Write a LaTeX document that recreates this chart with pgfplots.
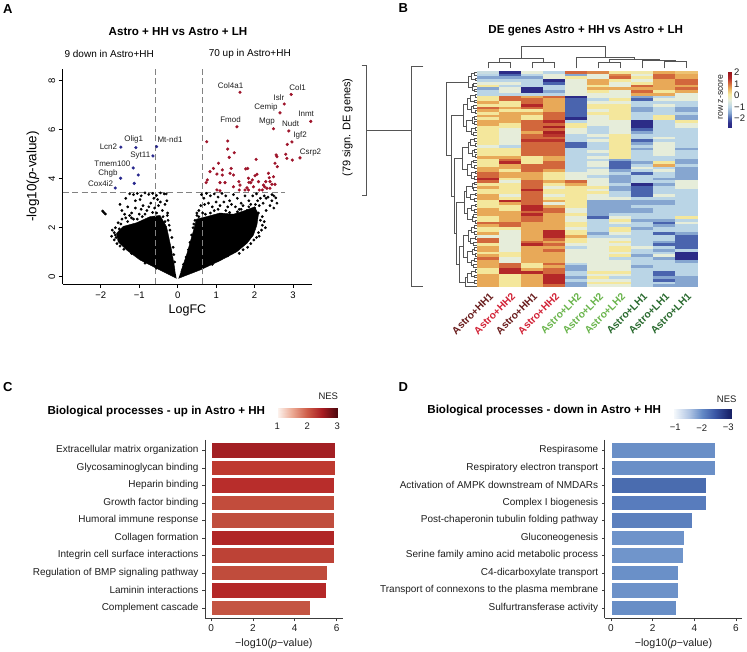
\documentclass[border=0pt]{standalone}
\usepackage{fontspec}
\setmainfont{Liberation Sans}
\usepackage{pgfplots}
\pgfplotsset{compat=1.18}
\usepackage{pgfplotstable}
\newcommand{\fs}[1]{\fontsize{#1}{#1}\selectfont}
\definecolor{redpt}{RGB}{158,20,42}
\definecolor{bluept}{RGB}{38,38,140}
\definecolor{dashg}{RGB}{130,130,130}
\definecolor{axg}{RGB}{60,60,60}
\definecolor{txt}{RGB}{30,30,30}
\definecolor{hh1}{RGB}{105,28,28}
\definecolor{hh2}{RGB}{210,35,55}
\definecolor{lh2}{RGB}{105,180,75}
\definecolor{lh1}{RGB}{40,105,45}
\definecolor{dgm}{RGB}{85,85,85}
\definecolor{cb1}{RGB}{163,32,36}\definecolor{cb2}{RGB}{190,58,48}\definecolor{cb3}{RGB}{184,45,43}
\definecolor{cb4}{RGB}{194,76,60}\definecolor{cb5}{RGB}{192,78,62}\definecolor{cb6}{RGB}{176,38,38}
\definecolor{cb7}{RGB}{189,66,54}\definecolor{cb8}{RGB}{192,76,60}\definecolor{cb9}{RGB}{180,40,40}
\definecolor{cb10}{RGB}{196,84,66}
\definecolor{db1}{RGB}{106,143,199}\definecolor{db2}{RGB}{106,143,199}\definecolor{db3}{RGB}{74,108,175}
\definecolor{db4}{RGB}{88,124,189}\definecolor{db5}{RGB}{92,128,190}\definecolor{db6}{RGB}{110,147,202}
\definecolor{db7}{RGB}{112,149,203}\definecolor{db8}{RGB}{106,144,200}\definecolor{db9}{RGB}{109,146,201}
\definecolor{db10}{RGB}{104,142,198}
\pgfplotsset{
 colormap={zs}{rgb255(0pt)=(40,40,130) rgb255(4pt)=(48,48,140) rgb255(8pt)=(74,100,174) rgb255(13pt)=(134,166,208) rgb255(18pt)=(186,213,230) rgb255(24pt)=(230,237,218) rgb255(29pt)=(244,231,156) rgb255(34pt)=(232,169,88) rgb255(38pt)=(210,103,60) rgb255(43pt)=(180,40,40) rgb255(48pt)=(150,20,28)},
 colormap={nesup}{rgb255(0pt)=(253,246,242) rgb255(5pt)=(236,170,148) rgb255(10pt)=(206,92,72) rgb255(15pt)=(168,28,34) rgb255(20pt)=(78,8,14)},
 colormap={nesdown}{rgb255(0pt)=(22,30,95) rgb255(16pt)=(28,40,112) rgb255(66pt)=(58,86,165) rgb255(116pt)=(100,138,198) rgb255(166pt)=(178,198,228) rgb255(216pt)=(240,245,250) rgb255(224pt)=(248,250,253)},
 /pgf/number format/assume math mode=true,
 barax/.style={scale only axis, anchor=south west, xbar, bar width=15.8pt, y dir=reverse,
   ymin=0.4, ymax=10.6, ytick={1,...,10}, xtick={0,2,4,6},
   axis x line*=bottom, axis y line*=left, axis line style={-, axg, line width=0.7pt},
   tick style={axg, line width=0.6pt}, tick align=outside, major tick length=3pt,
   ticklabel style={font=\fs{10}, text=txt},
   xlabel={−log10(\textit{p}−value)}, xlabel style={font=\fs{10.7}, text=txt},
   every axis plot/.append style={bar shift=0pt, draw=white, line width=0.6pt}},
 cbar/.style={scale only axis, anchor=south west, view={0}{90}, hide axis},
}
\pgfdeclareplotmark{hcell}{\pgfpathrectangle{\pgfqpoint{-11.2pt}{-1.45pt}}{\pgfqpoint{22.4pt}{2.9pt}}\pgfusepathqfill}
\pgfplotstableread{
r c1 c2 c3 c4 c5 c6 c7 c8 c9 c10
0 -0.4 -2.2 0 -0.6 1.4 1.2 0.5 0.4 1.0 0.8
1 -0.6 -1.6 -0.6 0 -1.1 0 1.2 0 1.4 1.0
2 -1.1 -1.1 -1.1 0 0.5 0 1.4 0.5 1.4 1.0
3 -0.6 -0.6 -0.6 -2.2 0 1.0 0.5 0 1.0 1.4
4 0 0 -0.6 -1.6 0 1.0 0 0.5 1.0 1.4
5 0.5 -0.6 -0.6 -0.6 0 0.5 0 1.4 1.0 1.0
6 -1.1 0 -2.2 -0.6 0 1.0 1.0 1.0 1.0 1.4
7 -0.6 0 -2.2 -1.1 0 0.5 0 1.4 0.5 1.0
8 -0.6 -0.6 -0.6 -0.6 0 0 0 1.0 1.0 0
9 0.5 1.4 1.0 1.4 -2.2 0 0 -1.1 -0.6 0
10 0.5 1.4 1.4 1.0 -1.6 -0.6 0.5 -1.6 0 0
11 1.0 0.5 1.4 1.0 -1.6 0 0 -0.6 -0.6 -0.6
12 0.5 0.5 1.9 1.0 -1.6 0.5 0.5 -0.6 0 -0.6
13 1.4 1.0 1.4 1.0 -1.6 0.5 0.5 -1.1 -0.6 -1.1
14 1.0 0.5 0.5 1.0 -1.6 0 0.5 -1.1 -0.6 -1.1
15 0.5 1.0 1.0 1.4 -1.6 0.5 0.5 -0.6 -0.6 -0.6
16 1.0 1.0 0.5 1.4 -1.6 0 0.5 -0.6 0.5 -1.1
17 0.5 1.0 0.5 1.4 -2.2 0 0.5 -0.6 0.5 -1.1
18 1.0 1.0 1.4 1.9 -0.6 0 0 -2.2 -0.6 0.5
19 1.0 0.5 1.4 1.4 0.5 0 0 -2.2 -0.6 0
20 0.5 0.5 1.4 2.1 0.5 -0.6 0 -2.2 -0.6 0
21 0.5 0 1.4 1.4 0 -0.6 0 -1.6 -0.6 -0.6
22 0.5 0 1.0 2.1 0 -0.6 0 -1.1 -0.6 -0.6
23 0.5 0 1.4 1.8 -0.6 0 0.5 -0.6 -0.6 -0.6
24 0.5 0 1.4 1.4 -0.6 -0.6 0.5 -0.6 0 -0.6
25 0.5 0 1.8 1.8 -0.6 0 0.5 -1.6 -0.6 -0.6
26 0.5 0 1.4 1.4 -1.6 -0.6 0.5 -1.1 0 -0.6
27 0 -0.6 1.4 1.4 -1.6 -0.6 0.5 -0.6 0 -0.6
28 0.5 0.5 1.4 1.4 -0.6 -0.6 0.5 -1.1 0 -1.1
29 0.5 0.5 1.4 1.4 -0.6 0 0.5 -0.6 0 -0.6
30 0.5 0.5 1.4 1.4 -0.6 -0.6 0.5 -0.6 0 -0.6
31 1.0 1.0 0.5 1.0 -0.6 0 0.5 -0.6 -0.6 -0.6
32 0.5 1.4 0.5 1.0 -0.6 -0.6 -1.1 -0.6 -0.6 -1.1
33 0.5 1.9 0.5 1.4 -0.6 0 -1.6 -1.1 0.5 -1.1
34 0.5 1.0 1.4 1.4 -0.6 0 -1.6 -0.6 1.0 -0.6
35 1.0 1.0 1.4 1.4 -0.6 -0.6 -1.6 0 -0.6 -1.1
36 1.0 0.5 1.4 1.0 -0.6 0 -1.1 -0.6 0 -1.1
37 1.4 1.0 1.0 0.5 0 0 -0.6 -1.6 -0.6 -1.1
38 1.4 1.0 1.0 0.5 0 -0.6 -1.1 -0.6 -0.6 -1.1
39 1.9 0.5 1.0 0.5 0 0 -1.1 -0.6 -1.1 -1.1
40 1.4 0 1.4 1.0 1.4 0 -1.1 -0.6 -0.6 0
41 0.5 0.5 1.4 0.5 1.0 0 -0.6 -2.2 -1.1 0
42 1.0 0.5 1.4 0 0.5 0.5 -1.1 -1.6 -0.6 0
43 0.5 0.5 1.9 0.5 0.5 0 -1.1 -1.6 -0.6 -0.6
44 0.5 0.5 1.4 0.5 0.5 0.5 -0.6 -1.6 -0.6 -0.6
45 1.0 0 1.4 0 0.5 0 -0.6 -1.6 0 -0.6
46 1.0 0.5 1.4 0.5 0.5 0 0 -0.6 -0.6 -0.6
47 0.5 1.9 1.4 1.0 0.5 -1.1 -1.1 -1.1 -1.1 -0.6
48 0.5 1.0 1.4 0 0.5 -1.1 -1.1 -1.1 -1.1 -0.6
49 0.5 0.5 1.9 1.0 0.5 -1.1 -1.1 -0.6 -0.6 -0.6
50 1.0 0.5 1.9 1.4 0 -1.1 -1.1 -1.1 -0.6 -0.6
51 1.0 1.0 1.4 1.4 0 -1.1 -1.1 -1.1 -0.6 -0.6
52 1.0 1.0 1.9 1.0 0.5 -1.1 -0.6 -0.6 -0.6 -0.6
53 0.5 1.0 1.4 1.0 0 -1.6 0 -0.6 -0.6 0.5
54 0.5 1.0 1.4 1.0 0 -0.6 0.5 -1.1 -1.1 -0.6
55 1.4 1.4 1.0 1.0 0.5 -0.6 0 -0.6 -1.6 0
56 1.0 1.4 1.0 1.0 0.5 -0.6 -0.6 -0.6 -1.1 -0.6
57 0.5 0.5 1.0 1.0 0 -0.6 0.5 -1.1 -0.6 -0.6
58 0.5 0 1.0 1.9 0.5 -0.6 0.5 -0.6 -0.6 -0.6
59 1.0 0 1.0 1.9 0.5 -1.1 0 -0.6 -1.6 -1.1
60 0 0 1.0 1.9 1.0 -0.6 -0.6 -0.6 -0.6 -1.6
61 1.4 0 1.0 1.4 0.5 0 0 -0.6 -0.6 -1.6
62 1.4 0 1.4 1.0 0.5 0 0.5 -0.6 -1.1 -1.6
63 0.5 0 1.9 1.4 0 0 0 -0.6 -1.6 -1.6
64 1.0 0 1.0 1.0 -0.6 0 0.5 0 -0.6 -1.6
65 1.0 0 1.0 1.4 0 0 0.5 -0.6 -1.1 -0.6
66 0.5 0.5 1.0 1.0 0 0 0 -0.6 -0.6 -2.2
67 1.0 0.5 1.0 1.0 0 0 0.5 -1.1 0 -2.2
68 1.4 0 1.0 1.0 0 0 -0.6 -0.6 -1.1 -2.2
69 1.0 0 1.0 1.0 0 0 0 -0.6 -0.6 -1.1
70 1.0 1.4 0.5 1.4 -0.6 0 0 -0.6 -0.6 -0.6
71 1.0 1.4 0.5 1.0 -1.1 0 0 -1.1 -0.6 -0.6
72 0.5 1.9 1.0 1.4 -1.1 0 0 -0.6 -0.6 -0.6
73 0.5 1.9 1.9 1.4 -0.6 0.5 0.5 -0.6 -1.6 -0.6
74 1.0 0.5 1.0 1.9 -0.6 0 0 -0.6 -1.6 -0.6
75 1.0 0.5 1.0 1.9 -1.1 0.5 -0.6 -0.6 -1.1 -1.1
76 1.0 0.5 1.0 1.9 -0.6 0 0 -0.6 -1.6 -1.1
77 1.0 0.5 1.0 1.9 -1.1 0.5 0.5 -0.6 -0.6 -1.1
78 1.0 0.5 1.0 1.4 -1.1 0 0 -0.6 -1.1 -1.1
}\heat
\begin{document}
\begin{tikzpicture}
\path[use as bounding box] (0,0) rectangle (747pt,-652pt);
% ---------------- Panel A ----------------
\begin{axis}[at={(62.7pt,-284pt)}, anchor=south west, scale only axis,
  width=249.6pt, height=215pt, xmin=-2.99, xmax=3.5, ymin=-0.3, ymax=8.48,
  axis x line*=bottom, axis y line*=left, axis line style={-, black, line width=0.6pt},
  tick style={black, line width=0.6pt}, tick align=outside, major tick length=4pt,
  xtick={-2,-1,0,1,2,3}, xticklabels={−2,−1,0,1,2,3},
  ytick={0,2,4,6,8}, yticklabels={0,2,4,6,8},
  yticklabel style={rotate=90, anchor=south},
  ticklabel style={font=\fs{9.5}, text=black},
  xlabel={LogFC}, xlabel style={font=\fs{12.5}},
  ylabel={-log10(\textit{p}-value)},
  every axis y label/.style={at={(axis description cs:-0.119,0.5)}, rotate=90, anchor=center, font=\fs{13.5}},
  clip=false]
\addplot[fill=black, draw=black, line width=0.4pt] coordinates {(-0.03,-0.07)(-0.46,0.27)(-0.98,0.68)(-1.33,1.09)(-1.55,1.43)(-1.59,1.77)(-1.42,2.05)(-1.07,2.2)(-0.72,2.45)(-0.46,2.5)(-0.29,2.04)(-0.16,1.09)(-0.07,0.27)};
\addplot[fill=black, draw=black, line width=0.4pt] coordinates {(0.02,-0.07)(0.58,0.27)(1.10,0.65)(1.54,1.02)(1.80,1.36)(1.97,1.70)(2.06,2.11)(2.10,2.55)(2.0,2.85)(1.75,2.7)(1.45,2.55)(1.10,2.6)(0.75,2.45)(0.49,2.35)(0.39,1.77)(0.23,0.89)(0.08,0.2)};
\addplot[only marks, mark=*, mark size=1.2pt, black] coordinates {
(-1.25,3.38)(-1.15,3.35)(-1.05,3.40)(-0.95,3.30)(-0.85,3.42)(-0.75,3.36)(-0.65,3.40)(-0.55,3.32)(-0.35,3.38)(-0.28,3.10)(-0.45,3.05)(-1.10,3.10)(-1.35,3.20)(-1.50,2.95)(-1.45,2.70)(-1.30,2.85)(-1.20,2.60)(-0.90,2.90)(-0.70,3.00)(-0.60,2.80)(-0.50,2.90)(-0.40,2.70)(-0.98,3.15)(-0.80,2.70)(-1.00,2.55)(-0.62,3.20)(-0.33,2.95)(-0.26,2.60)(-0.30,3.38)(-0.45,3.42)(-1.95,2.68)(-1.92,2.62)(-1.88,2.56)(-1.62,2.00)(-1.65,1.80)(-1.60,1.60)(-1.70,1.90)(-1.55,2.20)(-1.45,2.35)(-1.35,2.40)(-1.65,1.50)(-1.58,1.35)(-1.50,1.25)(-1.40,1.12)(-1.25,2.50)(-1.15,2.35)(-0.25,2.30)(-0.20,1.90)(-0.15,1.60)(-0.12,1.20)(-0.10,0.90)(-0.08,0.60)(-0.22,2.10)(-0.27,2.50)(-1.20,0.95)(-0.85,0.55)(-0.55,0.35)
(-1.30,2.25)(-1.20,2.40)(-1.05,2.35)(-0.92,2.45)(-0.85,2.55)(-0.65,2.62)(-0.55,2.60)(-0.38,2.45)(-0.33,2.25)(-1.48,2.15)(-1.62,1.70)(-1.72,1.65)(-1.52,1.95)(-0.95,2.75)(-0.75,2.85)(-1.10,2.80)(-1.38,2.55)(-0.52,3.15)
(0.62,3.35)(0.68,3.20)(0.75,3.40)(0.85,3.30)(0.95,3.38)(1.05,3.25)(1.15,3.40)(1.25,3.30)(1.35,3.10)(1.45,3.35)(1.55,3.20)(1.65,3.00)(1.75,3.30)(1.85,3.10)(1.95,3.30)(2.05,3.38)(2.15,3.20)(2.25,3.30)(2.35,3.25)(2.45,3.10)(2.55,3.22)(2.22,3.00)(2.40,2.90)(2.30,2.70)(2.50,2.80)(2.58,3.00)(0.60,2.90)(0.55,2.70)(0.70,2.95)(0.80,3.00)(0.90,2.85)(1.00,3.05)(1.10,2.90)(1.20,3.05)(1.30,2.85)(1.40,2.95)(1.60,2.75)(1.70,2.90)(1.90,2.95)(2.00,2.80)(2.10,2.60)(2.20,2.45)(0.50,2.50)(0.65,2.60)(1.50,2.85)(1.80,2.70)(2.08,3.10)(2.12,2.90)(2.30,3.20)(2.45,3.35)(2.50,3.30)(2.15,2.30)(2.20,2.10)(2.18,1.90)(2.10,1.80)(2.05,1.60)(1.98,1.50)(1.90,1.35)(1.82,1.20)(1.70,1.10)(0.40,2.00)(0.36,1.70)(0.32,1.40)(0.28,1.10)(0.22,0.80)(0.15,0.50)(0.45,2.30)(0.42,2.15)(1.30,0.85)(0.90,0.50)(1.60,0.95)
(0.55,2.45)(0.85,2.60)(0.95,2.70)(1.25,2.70)(1.35,2.62)(1.55,2.65)(1.65,2.75)(1.85,2.85)(0.72,2.55)(1.05,2.75)(2.25,2.25)(2.28,2.00)(2.12,1.65)(2.02,2.95)(0.48,2.10)(0.50,2.60)};
\addplot[only marks, mark=*, mark size=1.4pt, redpt] coordinates {
(1.62,7.53)(2.95,7.44)(2.77,7.05)(2.66,6.69)(3.46,6.34)(1.54,6.12)(2.49,6.04)(2.89,5.95)(2.97,5.5)(3.18,4.85)
(2.85,5.4)(0.755,5.51)(1.30,5.54)(1.30,5.21)(1.34,4.87)(1.47,5.06)(1.06,4.63)(0.93,4.42)(0.84,4.29)(0.77,3.95)(0.74,3.84)(1.02,4.19)(1.16,4.36)(1.39,4.42)(1.16,4.15)(1.36,4.22)(1.45,4.15)(1.10,3.84)(1.23,3.84)(1.45,3.67)(1.02,3.54)(1.10,3.51)(1.59,3.88)(1.62,3.74)(1.77,4.40)(1.82,4.42)(1.84,4.02)(1.85,3.85)(1.90,3.84)(2.04,4.79)(2.01,4.12)(2.06,4.18)(1.94,3.95)(1.97,3.67)(1.80,3.63)(2.10,3.88)(1.75,3.54)(1.84,3.54)(1.60,3.54)(2.12,3.54)(2.23,3.74)(2.26,3.67)(2.32,3.61)(2.40,3.61)(2.20,3.54)(2.36,4.22)(2.49,4.08)(2.38,4.04)(2.53,3.77)(2.45,3.77)(2.56,4.97)(2.58,4.90)(2.53,4.63)(2.59,4.49)(2.81,5.0)(2.84,4.83)(2.98,4.76)(2.29,3.88)(2.40,3.88)};
\addplot[only marks, mark=*, mark size=1.4pt, bluept] coordinates {(-1.476,5.29)(-1.087,5.27)(-0.547,5.31)(-0.643,4.93)(-1.156,4.44)(-1.026,4.15)(-1.484,4.02)(-1.13,3.81)(-1.625,3.62)};
\addplot[dashg, line width=0.8pt, dash pattern=on 6pt off 3.5pt] coordinates {(-0.575,-0.3)(-0.575,8.48)};
\addplot[dashg, line width=0.8pt, dash pattern=on 6pt off 3.5pt] coordinates {(0.635,-0.3)(0.635,8.48)};
\addplot[dashg, line width=0.8pt, dash pattern=on 6pt off 3.5pt] coordinates {(-2.99,3.44)(2.8,3.44)};
\begin{scope}[every node/.style={font=\fs{8}, text=txt, inner sep=0pt}]
\node at (axis cs:-1.80,5.31) {Lcn2};
\node at (axis cs:-1.146,5.61) {Olig1};
\node at (axis cs:-0.2,5.61) {Mt-nd1};
\node at (axis cs:-0.973,4.93) {Syt11};
\node at (axis cs:-1.698,4.6) {Tmem100};
\node at (axis cs:-1.815,4.2) {Chgb};
\node at (axis cs:-2.003,3.8) {Cox4i2};
\node at (axis cs:1.375,7.81) {Col4a1};
\node at (axis cs:3.12,7.73) {Col1};
\node at (axis cs:2.633,7.32) {Islr};
\node at (axis cs:2.295,6.9) {Cemip};
\node at (axis cs:3.34,6.64) {Inmt};
\node at (axis cs:1.375,6.4) {Fmod};
\node at (axis cs:2.32,6.34) {Mgp};
\node at (axis cs:2.937,6.26) {Nudt};
\node at (axis cs:3.185,5.76) {Igf2};
\node at (axis cs:3.453,5.08) {Csrp2};
\end{scope}
\end{axis}
\node[font=\bfseries\fs{11.6}] at (178pt,-31.7pt) {Astro + HH vs Astro + LH};
\node[font=\fs{10}] at (109.2pt,-54.3pt) {9 down in Astro+HH};
\node[font=\fs{10}] at (249.8pt,-54.3pt) {70 up in Astro+HH};
\node[font=\bfseries\fs{13}] at (7.7pt,-9.2pt) {A};
\node[font=\bfseries\fs{13}] at (403.3pt,-8.3pt) {B};
\node[font=\bfseries\fs{13}] at (7.7pt,-386.7pt) {C};
\node[font=\bfseries\fs{13}] at (403.3pt,-386.7pt) {D};
% ---------------- Panel B ----------------
\node[font=\fs{11}, rotate=90] at (347.5pt,-127.5pt) {(79 sign. DE genes)};
\draw[dgm, line width=0.8pt] (361.7pt,-65.7pt) -- (366.7pt,-65.7pt) -- (366.7pt,-195pt) -- (361.7pt,-195pt);
\draw[dgm, line width=0.8pt] (366.7pt,-130pt) -- (411.7pt,-130pt);
\draw[dgm, line width=0.8pt] (423.3pt,-66.7pt) -- (411.7pt,-66.7pt) -- (411.7pt,-286.7pt) -- (423.3pt,-286.7pt);
\node[font=\bfseries\fs{11.6}] at (585.8pt,-30.7pt) {DE genes Astro + HH vs Astro + LH};
\begin{axis}[at={(477.3pt,-287.3pt)}, anchor=south west, scale only axis, width=220pt, height=216.3pt,
  xmin=0.5, xmax=10.5, ymin=-0.5, ymax=78.5, y dir=reverse, hide axis,
  colormap name=zs, point meta min=-2.4, point meta max=2.4]
\pgfplotsinvokeforeach{1,...,10}{
\addplot[scatter, only marks, mark=hcell, point meta=\thisrow{c#1}] table[x expr=#1, y=r]{\heat};
}
\end{axis}
% column dendrogram
\begin{axis}[at={(477.3pt,-68.5pt)}, anchor=south west, scale only axis, width=220pt, height=21.8pt,
  xmin=0.5, xmax=10.5, ymin=0, ymax=21.8, hide axis, clip=false]
\addplot[dgm, line width=0.6pt, unbounded coords=jump] coordinates {
(1,0)(1,5.8)(2,5.8)(2,0)(nan,nan)
(3,0)(3,6.5)(4,6.5)(4,0)(nan,nan)
(1.5,5.8)(1.5,10.2)(3.5,10.2)(3.5,6.5)(nan,nan)
(6,0)(6,6.5)(7,6.5)(7,0)(nan,nan)
(9,0)(9,6.8)(10,6.8)(10,0)(nan,nan)
(8,0)(8,8.5)(9.5,8.5)(9.5,6.8)(nan,nan)
(6.5,6.5)(6.5,9.5)(8.75,9.5)(8.75,8.5)(nan,nan)
(5,0)(5,11.2)(7.625,11.2)(7.625,9.5)(nan,nan)
(2.5,10.2)(2.5,21.8)(6.3125,21.8)(6.3125,11.2)};
\end{axis}
% row dendrogram
\begin{axis}[at={(446pt,-287.3pt)}, anchor=south west, scale only axis, width=31pt, height=216.3pt,
  xmin=0, xmax=31, x dir=reverse, ymin=-0.5, ymax=78.5, y dir=reverse, hide axis, clip=false]
\addplot[dgm, line width=0.5pt, unbounded coords=jump] coordinates {
(0,0)(3,0)(3,1)(0,1)(nan,nan)(0,2)(2,2)(2,3)(0,3)(nan,nan)(0,4)(4,4)(4,5)(0,5)(nan,nan)(0,6)(3,6)(3,7)(0,7)(nan,nan)
(0,8)(2,8)(2,9)(0,9)(nan,nan)(0,10)(3,10)(3,11)(0,11)(nan,nan)(0,12)(4,12)(4,13)(0,13)(nan,nan)(0,14)(2,14)(2,15)(0,15)(nan,nan)
(0,16)(3,16)(3,17)(0,17)(nan,nan)(0,18)(3,18)(3,19)(0,19)(nan,nan)(0,20)(2,20)(2,21)(0,21)(nan,nan)(0,22)(4,22)(4,23)(0,23)(nan,nan)
(0,24)(3,24)(3,25)(0,25)(nan,nan)(0,26)(2,26)(2,27)(0,27)(nan,nan)(0,28)(3,28)(3,29)(0,29)(nan,nan)(0,30)(2,30)(2,31)(0,31)(nan,nan)
(0,32)(4,32)(4,33)(0,33)(nan,nan)(0,34)(3,34)(3,35)(0,35)(nan,nan)(0,36)(2,36)(2,37)(0,37)(nan,nan)(0,38)(3,38)(3,39)(0,39)(nan,nan)
(0,40)(3,40)(3,41)(0,41)(nan,nan)(0,42)(4,42)(4,43)(0,43)(nan,nan)(0,44)(2,44)(2,45)(0,45)(nan,nan)(0,46)(3,46)(3,47)(0,47)(nan,nan)
(0,48)(2,48)(2,49)(0,49)(nan,nan)(0,50)(3,50)(3,51)(0,51)(nan,nan)(0,52)(4,52)(4,53)(0,53)(nan,nan)(0,54)(2,54)(2,55)(0,55)(nan,nan)
(0,56)(3,56)(3,57)(0,57)(nan,nan)(0,58)(3,58)(3,59)(0,59)(nan,nan)(0,60)(2,60)(2,61)(0,61)(nan,nan)(0,62)(4,62)(4,63)(0,63)(nan,nan)
(0,64)(3,64)(3,65)(0,65)(nan,nan)(0,66)(2,66)(2,67)(0,67)(nan,nan)(0,68)(3,68)(3,69)(0,69)(nan,nan)(0,70)(4,70)(4,71)(0,71)(nan,nan)
(0,72)(2,72)(2,73)(0,73)(nan,nan)(0,74)(3,74)(3,75)(0,75)(nan,nan)(0,76)(3,76)(3,77)(0,77)(nan,nan)
(3,0.5)(6,0.5)(6,2.5)(2,2.5)(nan,nan)(4,4.5)(5,4.5)(5,6.5)(3,6.5)(nan,nan)(2,8.5)(7,8.5)(7,10.5)(3,10.5)(nan,nan)
(4,12.5)(6,12.5)(6,14.5)(2,14.5)(nan,nan)(3,16.5)(5,16.5)(5,18.5)(3,18.5)(nan,nan)(2,20.5)(6,20.5)(6,22.5)(4,22.5)(nan,nan)
(3,24.5)(7,24.5)(7,26.5)(2,26.5)(nan,nan)(3,28.5)(5,28.5)(5,30.5)(2,30.5)(nan,nan)(4,32.5)(6,32.5)(6,34.5)(3,34.5)(nan,nan)
(2,36.5)(6,36.5)(6,38.5)(3,38.5)(nan,nan)(3,40.5)(5,40.5)(5,42.5)(4,42.5)(nan,nan)(2,44.5)(7,44.5)(7,46.5)(3,46.5)(nan,nan)
(2,48.5)(6,48.5)(6,50.5)(3,50.5)(nan,nan)(4,52.5)(5,52.5)(5,54.5)(2,54.5)(nan,nan)(3,56.5)(6,56.5)(6,58.5)(3,58.5)(nan,nan)
(2,60.5)(7,60.5)(7,62.5)(4,62.5)(nan,nan)(3,64.5)(5,64.5)(5,66.5)(2,66.5)(nan,nan)(3,68.5)(6,68.5)(6,70.5)(4,70.5)(nan,nan)
(2,72.5)(6,72.5)(6,74.5)(3,74.5)(nan,nan)
(6,1.5)(9,1.5)(9,5.5)(5,5.5)(nan,nan)(7,9.5)(10,9.5)(10,13.5)(6,13.5)(nan,nan)(5,17.5)(11,17.5)(11,21.5)(6,21.5)(nan,nan)
(7,25.5)(9,25.5)(9,29.5)(5,29.5)(nan,nan)(6,33.5)(10,33.5)(10,37.5)(6,37.5)(nan,nan)(5,41.5)(11,41.5)(11,45.5)(7,45.5)(nan,nan)
(6,49.5)(10,49.5)(10,53.5)(5,53.5)(nan,nan)(6,57.5)(9,57.5)(9,61.5)(7,61.5)(nan,nan)(5,65.5)(10,65.5)(10,69.5)(6,69.5)(nan,nan)
(10,11.5)(14,11.5)(14,19.5)(11,19.5)(nan,nan)(9,27.5)(15,27.5)(15,35.5)(10,35.5)(nan,nan)
(11,43.5)(13,43.5)(13,51.5)(10,51.5)(nan,nan)(9,59.5)(14,59.5)(14,67.5)(10,67.5)(nan,nan)
(6,73.5)(10,73.5)(10,76.5)(3,76.5)(nan,nan)(10,75)(12,75)(12,78)(0,78)(nan,nan)
(14,63.5)(18,63.5)(18,76.5)(12,76.5)(nan,nan)(13,47.5)(21,47.5)(21,70)(18,70)(nan,nan)
(15,31.5)(23,31.5)(23,58.75)(21,58.75)(nan,nan)(14,15.5)(26,15.5)(26,45.125)(23,45.125)(nan,nan)
(9,3.5)(31,3.5)(31,30.31)(26,30.31)};
\end{axis}
% heatmap colour key
\begin{axis}[cbar, at={(727.3pt,-127.7pt)}, width=4.4pt, height=56pt, xmin=0, xmax=1, ymin=-2.8, ymax=2.05,
  colormap name=zs, point meta min=-2.8, point meta max=2.05]
\addplot3[surf, shader=interp, mesh/cols=2, point meta=y] coordinates {
(0,-2.8,0)(1,-2.8,0)(0,-2.396,0)(1,-2.396,0)(0,-1.992,0)(1,-1.992,0)(0,-1.486,0)(1,-1.486,0)
(0,-0.981,0)(1,-0.981,0)(0,-0.375,0)(1,-0.375,0)(0,0.130,0)(1,0.130,0)(0,0.635,0)(1,0.635,0)
(0,1.039,0)(1,1.039,0)(0,1.545,0)(1,1.545,0)(0,2.05,0)(1,2.05,0)};
\end{axis}
\begin{scope}[every node/.style={font=\fs{9.5}, text=txt, anchor=west, inner sep=0pt}]
\node at (734pt,-72.6pt) {2};
\node at (734pt,-84pt) {1};
\node at (734pt,-95.5pt) {0};
\node at (734pt,-107pt) {−1};
\node at (734pt,-118.5pt) {−2};
\end{scope}
\node[font=\fs{8.7}, text=txt, rotate=90] at (720.5pt,-97pt) {row z-score};
\begin{scope}[every node/.style={font=\bfseries\fs{10.3}, rotate=45, anchor=east, inner sep=1pt}]
\node[text=hh1] at (492.3pt,-294pt) {Astro+HH1};
\node[text=hh2] at (514.3pt,-294pt) {Astro+HH2};
\node[text=hh1] at (536.3pt,-294pt) {Astro+HH1};
\node[text=hh2] at (558.3pt,-294pt) {Astro+HH2};
\node[text=lh2] at (580.3pt,-294pt) {Astro+LH2};
\node[text=lh2] at (602.3pt,-294pt) {Astro+LH2};
\node[text=lh2] at (624.3pt,-294pt) {Astro+LH2};
\node[text=lh1] at (646.3pt,-294pt) {Astro+LH1};
\node[text=lh1] at (668.3pt,-294pt) {Astro+LH1};
\node[text=lh1] at (690.3pt,-294pt) {Astro+LH1};
\end{scope}
% ---------------- Panel C ----------------
\node[font=\bfseries\fs{11.6}] at (156.3pt,-411.7pt) {Biological processes - up in Astro + HH};
\begin{axis}[barax, at={(205pt,-618.3pt)}, width=137.7pt, height=178.5pt, xmin=-0.29, xmax=6.29,
  yticklabels={Extracellular matrix organization, Glycosaminoglycan binding, Heparin binding, Growth factor binding, Humoral immune response, Collagen formation, Integrin cell surface interactions, Regulation of BMP signaling pathway, Laminin interactions, Complement cascade}]
\addplot[fill=cb1] coordinates {(5.95,1)};
\addplot[fill=cb2] coordinates {(5.92,2)};
\addplot[fill=cb3] coordinates {(5.90,3)};
\addplot[fill=cb4] coordinates {(5.88,4)};
\addplot[fill=cb5] coordinates {(5.88,5)};
\addplot[fill=cb6] coordinates {(5.87,6)};
\addplot[fill=cb7] coordinates {(5.87,7)};
\addplot[fill=cb8] coordinates {(5.57,8)};
\addplot[fill=cb9] coordinates {(5.52,9)};
\addplot[fill=cb10] coordinates {(4.76,10)};
\end{axis}
\begin{axis}[cbar, at={(277.3pt,-417.3pt)}, width=60pt, height=9.6pt, xmin=1, xmax=3, ymin=0, ymax=1,
  colormap name=nesup, point meta min=1, point meta max=3]
\addplot3[surf, shader=interp, mesh/cols=2, point meta=x] coordinates {
(1,0,0)(1,1,0)(1.5,0,0)(1.5,1,0)(2,0,0)(2,1,0)(2.5,0,0)(2.5,1,0)(3,0,0)(3,1,0)};
\end{axis}
\begin{scope}[every node/.style={font=\fs{9.5}, text=txt}]
\node at (277.3pt,-426pt) {1};
\node at (307.3pt,-426pt) {2};
\node at (337.3pt,-426pt) {3};
\node at (328.3pt,-396.7pt) {NES};
\end{scope}
% ---------------- Panel D ----------------
\node[font=\bfseries\fs{11.6}] at (544.2pt,-410.7pt) {Biological processes - down in Astro + HH};
\begin{axis}[barax, at={(604.75pt,-618.3pt)}, width=137.5pt, height=178.5pt, xmin=-0.3, xmax=6.3,
  yticklabels={Respirasome, Respiratory electron transport, Activation of AMPK downstream of NMDARs, Complex I biogenesis, Post-chaperonin tubulin folding pathway, Gluconeogenesis, Serine family amino acid metabolic process, C4-dicarboxylate transport, Transport of connexons to the plasma membrane, Sulfurtransferase activity}]
\addplot[fill=db1] coordinates {(5.03,1)};
\addplot[fill=db2] coordinates {(5.00,2)};
\addplot[fill=db3] coordinates {(4.59,3)};
\addplot[fill=db4] coordinates {(4.59,4)};
\addplot[fill=db5] coordinates {(3.92,5)};
\addplot[fill=db6] coordinates {(3.50,6)};
\addplot[fill=db7] coordinates {(3.47,7)};
\addplot[fill=db8] coordinates {(3.25,8)};
\addplot[fill=db9] coordinates {(3.22,9)};
\addplot[fill=db10] coordinates {(3.15,10)};
\end{axis}
\begin{axis}[cbar, at={(673.3pt,-418.1pt)}, width=59.4pt, height=9.6pt, xmin=-3.16, xmax=-0.92, x dir=reverse, ymin=0, ymax=1,
  colormap name=nesdown, point meta min=-3.16, point meta max=-0.92]
\addplot3[surf, shader=interp, mesh/cols=2, point meta=x] coordinates {
(-3.16,0,0)(-3.16,1,0)(-3,0,0)(-3,1,0)(-2.5,0,0)(-2.5,1,0)(-2,0,0)(-2,1,0)(-1.5,0,0)(-1.5,1,0)(-1,0,0)(-1,1,0)(-0.92,0,0)(-0.92,1,0)};
\end{axis}
\begin{scope}[every node/.style={font=\fs{9.5}, text=txt}]
\node at (675.3pt,-427.7pt) {−1};
\node at (701.7pt,-427.7pt) {−2};
\node at (728.3pt,-427.7pt) {−3};
\node at (726.7pt,-399.3pt) {NES};
\end{scope}
\end{tikzpicture}
\end{document}
